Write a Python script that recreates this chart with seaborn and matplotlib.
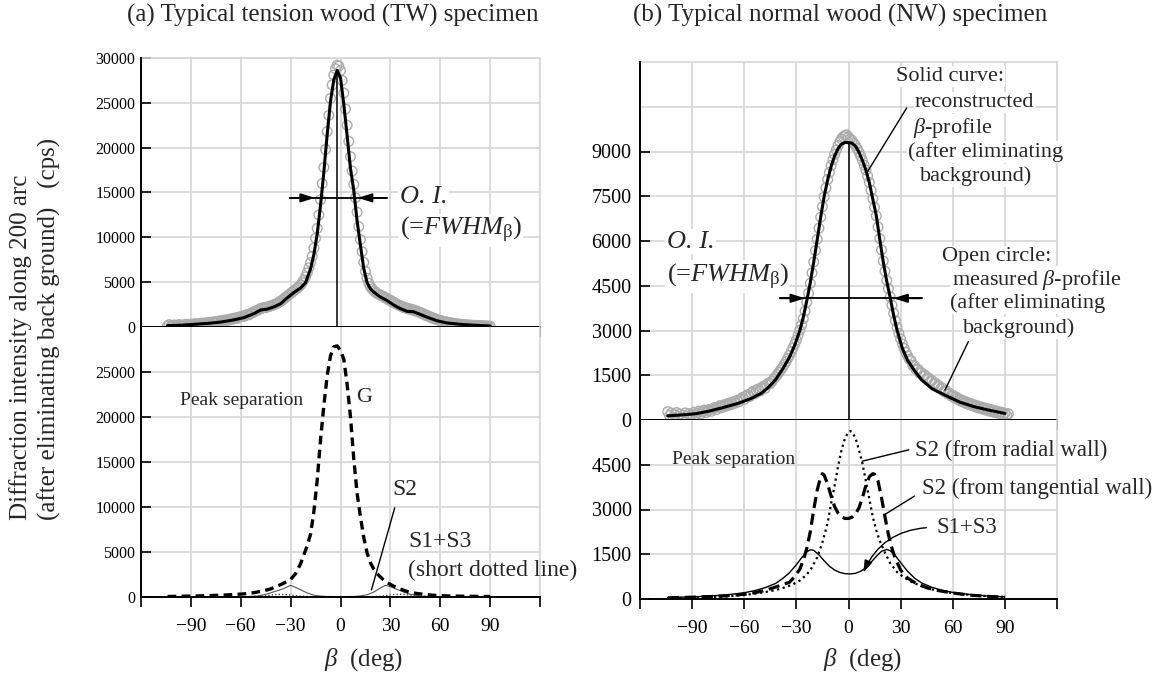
import matplotlib
matplotlib.use("Agg")
import matplotlib.pyplot as plt
import seaborn as sns

# ---------------- (a) tension wood (TW) ----------------
# reconstructed beta-profile (solid curve), cps
tw_fit_beta = [-104, -96, -88, -80, -72, -64, -58, -52, -48, -44, -40, -36, -32, -28, -24, -21,
               -18, -16, -14, -12, -10, -8, -6, -4, -2, 0, 2, 4, 6, 8, 10, 12, 14, 16, 18, 21,
               24, 28, 32, 36, 40, 44, 48, 52, 58, 64, 72, 80, 90]
tw_fit = [150, 200, 300, 400, 550, 800, 1050, 1500, 1900, 2000, 2250, 2600, 3250, 3850, 4350, 4950,
          6500, 8100, 10400, 13600, 17300, 21500, 25200, 27600, 28600, 27800, 24800, 21300, 17700,
          15200, 11800, 9100, 6500, 4950, 4250, 3750, 3350, 2950, 2450, 2050, 1750, 1700, 1400,
          1100, 700, 450, 300, 200, 120]

# measured beta-profile (open circles), one reading per degree from -104 to 90
tw_meas_beta = list(range(-104, 91))
tw_meas = [120, 260, 90, 180, 230, 60, 150, 280, 190, 110,
           240, 300, 170, 260, 210, 330, 250, 380, 290, 350,
           420, 330, 450, 390, 470, 520, 430, 560, 500, 610,
           560, 680, 620, 700, 760, 690, 820, 780, 900, 860,
           960, 1020, 980, 1100, 1150, 1220, 1180, 1320, 1400, 1370,
           1520, 1600, 1680, 1780, 1850, 1960, 2050, 2120, 2150, 2180,
           2230, 2300, 2350, 2420, 2480, 2560, 2650, 2760, 2880, 3000,
           3150, 3300, 3450, 3600, 3750, 3900, 4050, 4200, 4350, 4500,
           4700, 4950, 5250, 5600, 6050, 6600, 7200, 7900, 8800, 9900,
           11000, 12500, 14200, 16000, 17800, 19800, 21800, 23600, 25500, 27000,
           28100, 28800, 29200, 29100, 28600, 27500, 26100, 24300, 22500, 20700,
           19000, 17400, 15900, 14400, 12800, 11200, 9750, 8400, 7200, 6200,
           5450, 4900, 4500, 4250, 4050, 3900, 3750, 3650, 3550, 3450,
           3400, 3220, 3180, 3010, 2990, 2820, 2780, 2600, 2570, 2420,
           2390, 2250, 2240, 2110, 2110, 2000, 2010, 1900, 1910, 1790,
           1780, 1650, 1630, 1490, 1460, 1320, 1300, 1160, 1140, 1010,
           990, 880, 860, 760, 740, 650, 640, 560, 560, 480,
           490, 410, 420, 350, 360, 300, 320, 260, 280, 220,
           250, 190, 220, 170, 200, 150, 180, 130, 160, 110,
           140, 90, 120, 70, 100]

# peak separation components
tw_g_beta = [-104, -96, -88, -80, -72, -64, -58, -52, -46, -42, -38, -34, -30, -27, -24, -22, -20,
             -18, -16, -14, -12, -10, -8, -6, -4, -2, 0, 2, 4, 6, 8, 10, 12, 14, 16, 18, 20, 22,
             25, 28, 32, 36, 40, 45, 50, 56, 64, 72, 80, 90]
tw_g = [60, 80, 110, 150, 200, 270, 350, 480, 700, 900, 1200, 1550, 1950, 2600, 3700, 4700, 5700,
        7000, 9500, 13000, 17500, 21300, 24600, 26800, 27800, 27900, 27400, 26400, 23600, 20000,
        15300, 11500, 8900, 6600, 4900, 3800, 3100, 2600, 2050, 1600, 1200, 880, 620, 420, 290,
        190, 120, 90, 70, 50]
tw_s2_beta = [-104, -60, -50, -44, -38, -34, -30, -28, -24, -20, -16, -12, -8, 0, 8, 12, 16, 20,
              24, 27, 30, 34, 38, 42, 48, 56, 90]
tw_s2 = [0, 0, 100, 350, 700, 950, 1300, 1150, 800, 450, 200, 100, 60, 50, 60, 120, 250, 550,
         1000, 1300, 1150, 850, 550, 300, 100, 20, 0]
tw_s13_beta = [-104, -60, -45, -38, -32, -25, -15, 0, 15, 25, 32, 38, 45, 60, 90]
tw_s13 = [0, 0, 150, 300, 250, 100, 20, 0, 20, 100, 280, 300, 150, 0, 0]

# ---------------- (b) normal wood (NW) ----------------
nw_fit_beta = [-104, -96, -88, -80, -72, -64, -56, -50, -46, -42, -38, -34, -31, -28, -26, -24,
               -22, -20, -18, -16, -14, -12, -10, -8, -6, -4, -2, 0, 2, 4, 6, 8, 10, 12, 14, 16,
               18, 20, 22, 24, 26, 28, 31, 34, 38, 42, 48, 56, 64, 72, 80, 90]
nw_fit = [140, 170, 210, 300, 420, 550, 720, 900, 1100, 1350, 1700, 2100, 2500, 3000, 3450, 4000,
          4600, 5300, 6050, 6800, 7500, 8050, 8500, 8850, 9100, 9250, 9300, 9300, 9280, 9180,
          8980, 8700, 8380, 7950, 7400, 6850, 6050, 5300, 4650, 4100, 3500, 3000, 2400, 2000,
          1650, 1350, 1050, 820, 600, 450, 340, 220]

nw_meas_beta = list(range(-104, 93))
nw_meas = [280, 150, 230, 90, 180, 250, 120, 200, 70, 160,
           240, 130, 210, 100, 190, 260, 170, 240, 300, 210,
           280, 330, 250, 310, 360, 290, 370, 420, 350, 430,
           480, 410, 500, 450, 540, 490, 580, 530, 620, 570,
           660, 610, 700, 760, 690, 800, 850, 780, 900, 960,
           880, 1000, 1040, 970, 1080, 1130, 1060, 1180, 1240, 1220,
           1300, 1380, 1450, 1520, 1600, 1680, 1760, 1860, 1960, 2060,
           2170, 2290, 2410, 2540, 2680, 2840, 3010, 3190, 3400, 3650,
           3950, 4250, 4580, 4930, 5300, 5680, 6060, 6430, 6800, 7150,
           7480, 7780, 8060, 8300, 8530, 8720, 8900, 9050, 9200, 9330,
           9420, 9500, 9540, 9560, 9480, 9420, 9360, 9280, 9200, 9100,
           8980, 8850, 8700, 8540, 8380, 8180, 7960, 7700, 7420, 7130,
           6840, 6470, 6080, 5700, 5330, 4990, 4680, 4400, 4130, 3850,
           3580, 3330, 3100, 2900, 2720, 2550, 2400, 2270, 2150, 2040,
           1990, 1830, 1820, 1690, 1700, 1570, 1590, 1470, 1500, 1380,
           1410, 1300, 1320, 1210, 1240, 1130, 1150, 1040, 1070, 960,
           990, 880, 900, 810, 830, 740, 770, 680, 700, 620,
           650, 570, 600, 520, 560, 480, 520, 440, 480, 400,
           440, 370, 410, 330, 380, 300, 350, 270, 320, 240,
           290, 220, 260, 190, 230, 160, 210]

nw_rad_beta = [-104, -90, -80, -70, -60, -54, -48, -42, -36, -32, -28, -24, -21, -18, -15, -12,
               -10, -8, -6, -4, -2, 0, 1, 2, 4, 6, 8, 10, 12, 14, 16, 18, 21, 24, 28, 32, 36, 42,
               48, 56, 64, 72, 80, 90]
nw_rad = [30, 45, 60, 85, 130, 180, 230, 300, 400, 490, 620, 820, 1060, 1400, 1900, 2550, 3200,
          3800, 4450, 5000, 5400, 5600, 5630, 5600, 5400, 5000, 4550, 3950, 3350, 2750, 2300,
          1950, 1550, 1200, 900, 720, 580, 430, 320, 230, 170, 125, 95, 70]
nw_tan_beta = [-104, -90, -80, -70, -60, -54, -48, -42, -38, -34, -31, -28, -26, -24, -22, -20,
               -18, -16, -15, -14, -12, -10, -8, -6, -4, -2, 0, 2, 4, 6, 8, 10, 12, 14, 15, 17,
               19, 21, 23, 25, 27, 30, 34, 39, 45, 50, 57, 64, 72, 80, 90]
nw_tan = [40, 60, 80, 110, 160, 210, 290, 400, 480, 560, 750, 1000, 1300, 1700, 2250, 3000, 3650,
          4100, 4200, 4150, 3850, 3450, 3100, 2880, 2750, 2700, 2700, 2740, 2850, 3050, 3400,
          3800, 4100, 4200, 4180, 3950, 3400, 2750, 2150, 1700, 1350, 970, 700, 520, 380, 300,
          230, 170, 120, 90, 60]
nw_s13_beta = [-104, -90, -80, -70, -60, -54, -48, -42, -38, -34, -30, -27, -24, -22, -20, -17,
               -14, -11, -8, -5, -2, 1, 4, 7, 10, 13, 16, 19, 22, 24, 27, 30, 34, 38, 42, 48, 54,
               60, 70, 80, 90]
nw_s13 = [50, 70, 100, 140, 210, 280, 380, 520, 680, 880, 1150, 1380, 1580, 1650, 1630, 1480,
          1280, 1100, 970, 890, 850, 840, 860, 930, 1050, 1230, 1430, 1600, 1660, 1620, 1450,
          1220, 930, 700, 540, 390, 290, 220, 150, 100, 70]

# axis ticks
beta_ticks = [-120, -90, -60, -30, 0, 30, 60, 90, 120]
beta_ticklabels = ["", "\u221290", "\u221260", "\u221230", "0", "30", "60", "90", ""]
tw_yticks_top = [0, 5000, 10000, 15000, 20000, 25000, 30000]
tw_yticks_bottom = [0, 5000, 10000, 15000, 20000, 25000]
nw_yticks_top = [0, 1500, 3000, 4500, 6000, 7500, 9000]
nw_yticks_bottom = [0, 1500, 3000, 4500]

# ---------------- styling ----------------
sns.set_theme(style="whitegrid")
plt.rcParams.update({
    "font.family": ["Liberation Serif", "DejaVu Serif"],
    "mathtext.fontset": "custom",
    "mathtext.rm": "Liberation Serif",
    "mathtext.it": "Liberation Serif:italic",
    "mathtext.bf": "Liberation Serif:bold",
    "axes.unicode_minus": True,
})

GRID = "#d6d6d6"
CIRC = "#ababab"

fig = plt.figure(figsize=(11.6, 6.75), dpi=100)
W, H = 1160.0, 675.0


def rect(x0, x1, y_top, y_bot):
    return [x0 / W, 1 - y_bot / H, (x1 - x0) / W, (y_bot - y_top) / H]


ax_lt = fig.add_axes(rect(141, 540, 58, 327))
ax_lb = fig.add_axes(rect(141, 540, 327, 597))
ax_rt = fig.add_axes(rect(640, 1057, 62, 420))
ax_rb = fig.add_axes(rect(640, 1057, 420, 599))


def style(ax, ylim, yticks, xlabels, top_visible, ysize, ypad):
    ax.set_xlim(-120, 120)
    ax.set_ylim(*ylim)
    ax.set_xticks(beta_ticks)
    ax.set_yticks(yticks)
    ax.set_yticklabels([str(v) for v in yticks])
    if xlabels:
        ax.set_xticklabels(beta_ticklabels)
    else:
        ax.set_xticklabels([""] * len(beta_ticks))
    ax.set_axisbelow(True)
    ax.grid(True, color=GRID, linewidth=1.2)
    ax.tick_params(axis="x", direction="out", length=7, width=1.2, color="black",
                   bottom=True, labelsize=14, pad=8, labelcolor="black")
    ax.tick_params(axis="y", direction="in", length=7, width=1.2, color="black",
                   left=True, labelsize=ysize, pad=ypad, labelcolor="black")
    for side in ("left", "bottom"):
        ax.spines[side].set_color("black")
        ax.spines[side].set_linewidth(1.4)
        ax.spines[side].set_zorder(5)
    ax.spines["right"].set_color(GRID)
    ax.spines["right"].set_linewidth(1.2)
    ax.spines["top"].set_color(GRID)
    ax.spines["top"].set_linewidth(1.2)
    ax.spines["top"].set_visible(top_visible)
    ax.set_facecolor("white")
    ax.set_xlabel("")
    ax.set_ylabel("")


def circles(ax, x, y):
    sns.scatterplot(x=x, y=y, ax=ax, marker="o", s=48, legend=False, zorder=2)
    pc = ax.collections[-1]
    pc.set_facecolor("none")
    pc.set_edgecolor(CIRC)
    pc.set_linewidth(1.0)
    pc.set_clip_on(False)


def curve(ax, x, y, **kw):
    sns.lineplot(x=x, y=y, ax=ax, estimator=None, legend=False, **kw)


def fwhm(ax, y, x0, x1, tip0, tip1):
    ax.plot([x0, x1], [y, y], color="black", lw=1.3, zorder=6)
    for start, tip in ((x0, tip0), (x1, tip1)):
        ax.annotate("", xy=(tip, y), xytext=(start, y),
                    arrowprops=dict(arrowstyle="-|>,head_length=0.7,head_width=0.22",
                                    color="black", lw=1.3, shrinkA=0, shrinkB=0),
                    zorder=6)


def label(ax, x, y, s, size, box=True, **kw):
    bbox = dict(facecolor="white", edgecolor="none", pad=1.0) if box else None
    ax.text(x, y, s, fontsize=size, ha="left", va="center", bbox=bbox,
            clip_on=False, zorder=7, **kw)


# ---- (a) top: profile ----
circles(ax_lt, tw_meas_beta, tw_meas)
curve(ax_lt, tw_fit_beta, tw_fit, color="black", linewidth=2.2, zorder=4)
ax_lt.plot([-2, -2], [0, 28600], color="black", lw=1.1, zorder=4)
fwhm(ax_lt, 14400, -30.4, 27.8, -15.4, 10.4)
label(ax_lt, 35.6, 14500, "O. I.", 19, style="italic")
label(ax_lt, 35.6, 10800, r"(=$\mathit{FWHM}_{\mathrm{\beta}}$)", 19)
style(ax_lt, (0, 30000), tw_yticks_top, False, True, 11.5, 4)

# ---- (a) bottom: peak separation ----
curve(ax_lb, tw_s13_beta, tw_s13, color="#444444", linewidth=1.0, linestyle=(0, (1, 1.5)), zorder=3)
curve(ax_lb, tw_s2_beta, tw_s2, color="#555555", linewidth=0.8, zorder=3)
curve(ax_lb, tw_g_beta, tw_g, color="black", linewidth=2.4, linestyle=(0, (2.6, 1.6)), zorder=4)
ax_lb.plot([32.6, 18.6], [9900, 780], color="black", lw=1.0, zorder=6)
label(ax_lb, -96.4, 21800, "Peak separation", 14, box=False)
label(ax_lb, 9.6, 22150, "G", 16, box=False)
label(ax_lb, 31.4, 11900, "S2", 17, box=False)
label(ax_lb, 40.6, 6170, "S1+S3", 17, box=False)
label(ax_lb, 40.6, 3000, "(short dotted line)", 17, box=False)
style(ax_lb, (0, 30000), tw_yticks_bottom, True, False, 11.5, 4)

# ---- (b) top: profile ----
circles(ax_rt, nw_meas_beta, nw_meas)
curve(ax_rt, nw_fit_beta, nw_fit, color="black", linewidth=2.2, zorder=4)
ax_rt.plot([0, 0], [0, 9300], color="black", lw=1.1, zorder=4)
ax_rt.axhline(10500, color=GRID, lw=1.2, zorder=0)
fwhm(ax_rt, 4080, -39.4, 42.1, -25.0, 25.8)
label(ax_rt, -104.6, 5980, "O. I.", 19, style="italic")
label(ax_rt, -104.6, 4810, r"(=$\mathit{FWHM}_{\mathrm{\beta}}$)", 19)
label(ax_rt, 27.3, 11510, "Solid curve:", 16)
label(ax_rt, 38.3, 10640, "reconstructed", 16)
label(ax_rt, 37.1, 9800, r"$\mathit{\beta}$-profile", 16)
label(ax_rt, 34.2, 8990, "(after eliminating", 16)
label(ax_rt, 41.1, 8190, "background)", 16)
ax_rt.plot([33.5, 10.5], [10460, 8280], color="black", lw=1.0, zorder=6)
label(ax_rt, 53.6, 5480, "Open circle:", 16)
label(ax_rt, 59.4, 4700, r"measured $\mathit{\beta}$-profile", 16)
label(ax_rt, 58.4, 3920, "(after eliminating", 16)
label(ax_rt, 66.1, 3080, "background)", 16)
ax_rt.plot([69.0, 55.5], [2630, 1000], color="black", lw=1.0, zorder=6)
style(ax_rt, (0, 12000), nw_yticks_top, False, True, 14.5, 6)

# ---- (b) bottom: peak separation ----
curve(ax_rb, nw_s13_beta, nw_s13, color="black", linewidth=1.0, zorder=3)
curve(ax_rb, nw_rad_beta, nw_rad, color="black", linewidth=1.6, linestyle=(0, (1, 1.6)), zorder=4)
curve(ax_rb, nw_tan_beta, nw_tan, color="black", linewidth=2.3, linestyle=(0, (3.5, 1.8)), zorder=4)
label(ax_rb, -101.8, 4660, "Peak separation", 14, box=False)
label(ax_rb, 38.0, 4980, "S2 (from radial wall)", 16.5, box=False)
ax_rb.plot([34.7, 7.9], [5000, 4620], color="black", lw=1.0, zorder=6)
label(ax_rb, 42.5, 3700, "S2 (from tangential wall)", 16.5, box=False)
ax_rb.plot([38.0, 21.4], [3450, 2850], color="black", lw=1.0, zorder=6)
label(ax_rb, 50.4, 2390, "S1+S3", 16.5, box=False)
ax_rb.annotate("", xy=(8.6, 890), xytext=(44.8, 2390),
               arrowprops=dict(arrowstyle="-|>,head_length=0.6,head_width=0.2", color="black",
                               lw=1.0, shrinkA=0, shrinkB=0,
                               connectionstyle="arc3,rad=0.3"), zorder=6)
style(ax_rb, (0, 6000), nw_yticks_bottom, True, False, 14.5, 6)

# ---- titles and axis labels ----
fig.text(333 / W, 1 - 15 / H, "(a) Typical tension wood (TW) specimen", fontsize=18,
         ha="center", va="center")
fig.text(840 / W, 1 - 15 / H, "(b) Typical normal wood (NW) specimen", fontsize=18,
         ha="center", va="center")
fig.text(364 / W, 1 - 660 / H, r"$\mathit{\beta}$  (deg)", fontsize=18, ha="center", va="center")
fig.text(863 / W, 1 - 660 / H, r"$\mathit{\beta}$  (deg)", fontsize=18, ha="center", va="center")
fig.text(21 / W, 1 - 520 / H, "Diffraction intensity along 200 arc", fontsize=18,
         rotation=90, rotation_mode="anchor", ha="left", va="center")
fig.text(49 / W, 1 - 520 / H, "(after eliminating back ground)   (cps)", fontsize=18,
         rotation=90, rotation_mode="anchor", ha="left", va="center")

fig.savefig("out.png", dpi=100, facecolor="white")
